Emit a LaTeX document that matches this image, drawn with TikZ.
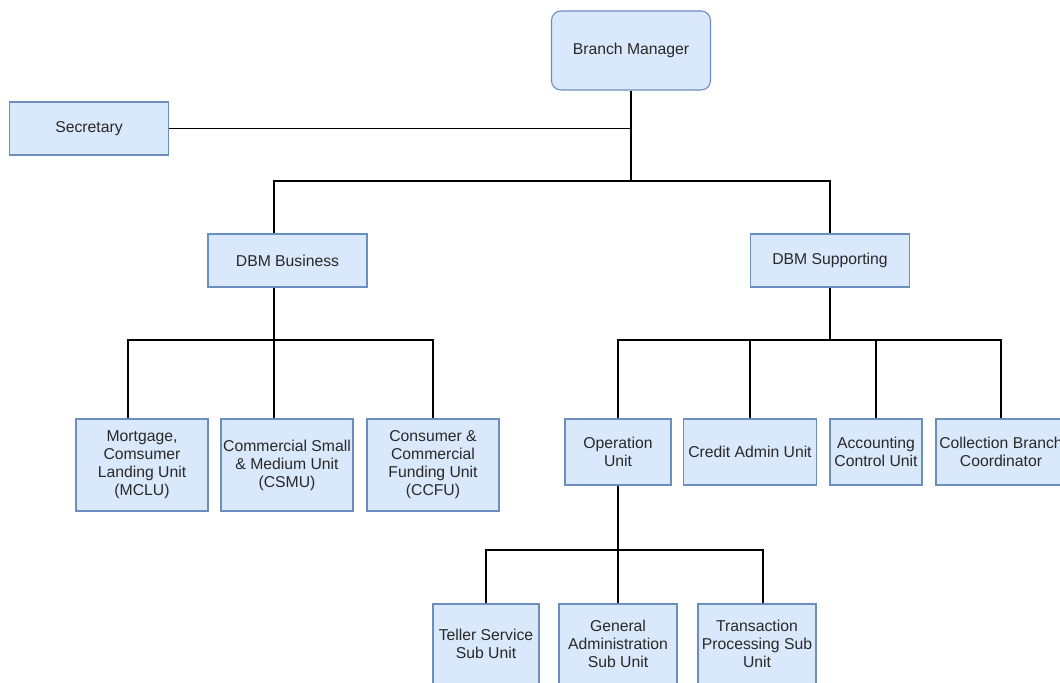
\documentclass[tikz,border=0pt]{standalone}
\usepackage{fontspec}
\setmainfont{Liberation Sans}
\usepackage{xcolor}
\usetikzlibrary{calc,positioning}
\definecolor{boxfill}{RGB}{218,232,252}
\definecolor{boxdraw}{RGB}{108,142,191}
\definecolor{textgray}{RGB}{40,40,40}

\begin{document}
\begin{tikzpicture}[
  x=0.75pt, y=-0.75pt,
  unit/.style={
    draw=boxdraw,
    fill=boxfill,
    line width=0.8pt,
    align=center,
    inner sep=1pt,
    text=textgray,
    font=\fontsize{11.8}{13.5}\selectfont
  },
  headbox/.style={unit, rounded corners=7pt, minimum width=119.25pt, minimum height=59.25pt},
  deputy/.style={unit, minimum width=119.25pt, minimum height=39.75pt},
  line/.style={draw=black, line width=0.9pt}
]
\clip (0,0) rectangle (1060,682);

% ===== Top: manager and secretary =====
\node[headbox] (bm) at (631,50.5) {Branch Manager};
\node[deputy] (sec) at (89,128.5) {Secretary};

% ===== Deputies =====
\node[deputy] (dbmb) at (287.5,260.5) {DBM Business};
\node[deputy] (dbms) at (830,260.5) {DBM Supporting};

% ===== Business units =====
\node[unit, minimum width=99pt, minimum height=69pt] (mclu) at (142,465)
  {Mortgage,\\Comsumer\\Landing Unit\\(MCLU)};
\node[unit, minimum width=99pt, minimum height=69pt] (csmu) at (287,465)
  {Commercial Small\\\& Medium Unit\\(CSMU)};
\node[unit, minimum width=99pt, minimum height=69pt] (ccfu) at (433,465)
  {Consumer \&\\Commercial\\Funding Unit\\(CCFU)};

% ===== Supporting units =====
\node[unit, minimum width=79.5pt, minimum height=49.5pt] (op) at (618,452) {Operation\\Unit};
\node[unit, minimum width=99.75pt, minimum height=49.5pt] (cau) at (750,452) {Credit Admin Unit};
\node[unit, minimum width=69pt, minimum height=49.5pt] (acu) at (876,452) {Accounting\\Control Unit};
\node[unit, minimum width=97.5pt, minimum height=49.5pt] (cbc) at (1001,452) {Collection Branch\\Coordinator};

% ===== Operation sub units =====
\node[unit, minimum width=79.5pt, minimum height=60pt] (tsu) at (486,644) {Teller Service\\Sub Unit};
\node[unit, minimum width=88.5pt, minimum height=60pt] (gasu) at (618,644) {General\\Administration\\Sub Unit};
\node[unit, minimum width=88.5pt, minimum height=60pt] (tpsu) at (757,644) {Transaction\\Processing Sub\\Unit};

% ===== Connectors =====
\coordinate (jtop) at (631,181);
\coordinate (jbus) at (274,340);
\coordinate (jsup) at (830,340);
\coordinate (jop) at (618,550);

\draw[line] (bm.south) -- (jtop);
\draw[line] (sec) -- (sec -| bm);
\draw[line] (jtop) -| ($(dbmb.north)+(-13.5,0)$);
\draw[line] (jtop) -| (dbms.north);

\draw[line] ($(dbmb.south)+(-13.5,0)$) -- (jbus);
\draw[line] (jbus) -| ($(mclu.north)+(-14,0)$);
\draw[line] (jbus) -- ($(csmu.north)+(-13,0)$);
\draw[line] (jbus) -| (ccfu.north);

\draw[line] (dbms.south) -- (jsup);
\draw[line] (jsup) -| (op.north);
\draw[line] (jsup) -| (cau.north);
\draw[line] (jsup) -| (acu.north);
\draw[line] (jsup) -| (cbc.north);

\draw[line] (op.south) -- (jop);
\draw[line] (jop) -| (tsu.north);
\draw[line] (jop) -- (gasu.north);
\draw[line] (jop) -| ($(tpsu.north)+(6,0)$);

\end{tikzpicture}
\end{document}
